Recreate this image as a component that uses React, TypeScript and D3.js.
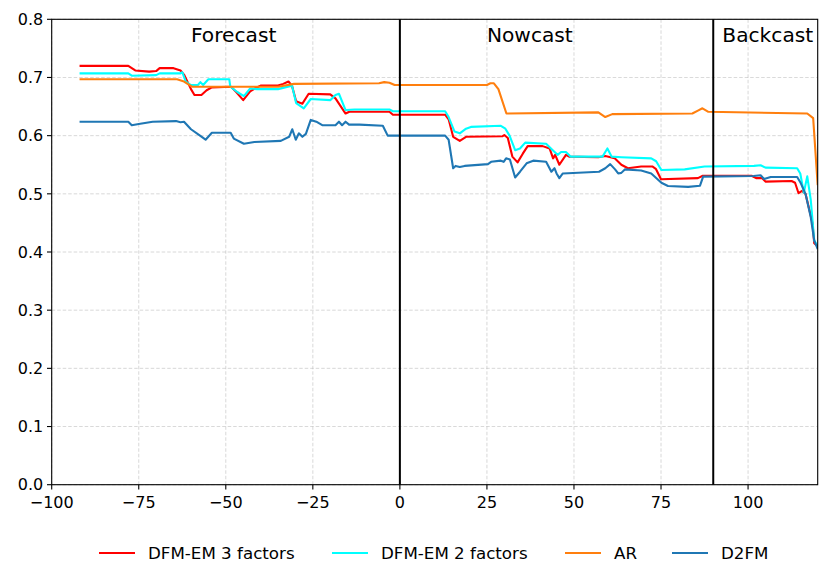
import React from "react";
import * as d3 from "d3";

const W = 830;
const H = 582;
const M = { left: 51.7, right: 817.7, top: 19.3, bottom: 484.7 };

const xTicks = [-100, -75, -50, -25, 0, 25, 50, 75, 100];
const yTicks = [0, 0.1, 0.2, 0.3, 0.4, 0.5, 0.6, 0.7, 0.8];

const seriesNames = ["DFM-EM 3 factors", "DFM-EM 2 factors", "AR", "D2FM"];
const seriesColors = ["#ff0000", "#00ffff", "#ff7f0e", "#1f77b4"];

const regionLabels = ["Forecast", "Nowcast", "Backcast"];
const regionX = [-60, 25, 92.6];
const dividerX = [0, 90];

const redX = [-92, -78, -76, -72, -70, -69, -65, -63, -62, -60, -59, -57, -55.5, -54, -48.5, -47, -45, -43, -41.7, -40, -35, -33.5, -32, -31, -29.8, -28, -26.2, -20, -18.5, -15.6, -14.5, -3, -2, 13, 14, 15.3, 17.2, 19, 29.5, 30, 31, 32.3, 33.8, 35.3, 36.7, 41, 43, 44, 44.6, 45.8, 47.7, 48.6, 57, 59, 61.7, 63.6, 65.5, 69.3, 72.5, 73.5, 75, 85.6, 87, 101, 102.3, 104, 105, 112.5, 113.5, 114.5, 115.5, 116.5, 118.5, 119, 120];
const redY = [0.72, 0.72, 0.712, 0.71, 0.711, 0.716, 0.716, 0.712, 0.705, 0.68, 0.67, 0.67, 0.678, 0.683, 0.684, 0.675, 0.661, 0.676, 0.681, 0.686, 0.686, 0.689, 0.693, 0.686, 0.659, 0.655, 0.672, 0.671, 0.664, 0.638, 0.641, 0.641, 0.636, 0.636, 0.628, 0.598, 0.591, 0.598, 0.599, 0.601, 0.596, 0.564, 0.554, 0.569, 0.582, 0.582, 0.578, 0.561, 0.567, 0.55, 0.567, 0.564, 0.563, 0.565, 0.561, 0.55, 0.544, 0.547, 0.547, 0.543, 0.525, 0.527, 0.531, 0.531, 0.527, 0.527, 0.521, 0.522, 0.519, 0.501, 0.505, 0.5, 0.45, 0.415, 0.41];

const cyanX = [-92, -78, -77, -70, -69, -63, -62.5, -61.5, -60, -58, -57.3, -56.5, -55, -49, -48.7, -46.7, -44.8, -43, -41, -35, -33, -31, -29.8, -27.6, -25.6, -20, -18.5, -17.5, -15.6, -13, -3, -2, 13, 14, 15.7, 17.2, 19, 20.4, 29, 30.3, 31.5, 33.1, 34.5, 36, 42, 43.9, 45.3, 46.3, 47.7, 49, 58.2, 59.6, 60.8, 63.6, 72.2, 73.6, 75.1, 81.8, 87.5, 101.7, 103.6, 105, 114.1, 115, 116, 117, 118, 119, 120];
const cyanY = [0.707, 0.707, 0.703, 0.704, 0.707, 0.707, 0.709, 0.693, 0.687, 0.687, 0.692, 0.687, 0.697, 0.697, 0.684, 0.675, 0.668, 0.681, 0.68, 0.68, 0.683, 0.686, 0.656, 0.647, 0.663, 0.661, 0.67, 0.672, 0.644, 0.645, 0.645, 0.642, 0.642, 0.632, 0.607, 0.604, 0.612, 0.615, 0.617, 0.612, 0.6, 0.575, 0.578, 0.588, 0.586, 0.575, 0.567, 0.572, 0.572, 0.564, 0.564, 0.578, 0.564, 0.563, 0.561, 0.556, 0.541, 0.542, 0.547, 0.548, 0.549, 0.545, 0.544, 0.535, 0.502, 0.53, 0.49, 0.42, 0.41];

const orangeX = [-92, -64, -62, -59.6, -35, -30.4, -6, -4.5, -3, -1.5, 25, 26, 27, 28.3, 30.6, 57, 59, 61, 84, 85.6, 86.9, 88.6, 117, 118.7, 120];
const orangeY = [0.697, 0.697, 0.693, 0.684, 0.684, 0.689, 0.69, 0.692, 0.691, 0.687, 0.687, 0.69, 0.69, 0.68, 0.638, 0.64, 0.632, 0.637, 0.638, 0.643, 0.647, 0.641, 0.638, 0.63, 0.515];

const blueX = [-92, -78, -77, -75, -71, -64.3, -63, -62, -60, -57.4, -55.8, -54, -48.6, -47.7, -44.8, -41.8, -34.2, -31.8, -30.9, -29.9, -29, -28, -27, -25.6, -24, -22.3, -18.5, -17.5, -16.6, -15.6, -14.6, -11.6, -4.9, -3.5, 13, 14, 15.3, 16, 17.2, 18.6, 25.3, 26.2, 29, 29.8, 30.5, 31.6, 33.1, 34.5, 36.4, 38.3, 42, 43.5, 44.4, 45, 45.8, 46.8, 57.2, 59, 60.4, 61.8, 62.7, 63.6, 64.6, 69.3, 72.2, 75.1, 77, 82.8, 86.2, 87.1, 101.6, 103.6, 104.6, 106.5, 114.1, 115, 116.5, 118, 119, 120];
const blueY = [0.624, 0.624, 0.618, 0.62, 0.624, 0.625, 0.623, 0.624, 0.611, 0.6, 0.593, 0.605, 0.605, 0.595, 0.586, 0.589, 0.591, 0.598, 0.611, 0.593, 0.604, 0.598, 0.603, 0.627, 0.624, 0.618, 0.618, 0.624, 0.618, 0.624, 0.619, 0.619, 0.617, 0.6, 0.6, 0.593, 0.544, 0.548, 0.546, 0.548, 0.551, 0.555, 0.557, 0.555, 0.561, 0.559, 0.528, 0.538, 0.5525, 0.557, 0.555, 0.538, 0.544, 0.535, 0.527, 0.535, 0.538, 0.544, 0.551, 0.542, 0.535, 0.536, 0.542, 0.54, 0.535, 0.519, 0.5135, 0.512, 0.514, 0.5295, 0.5306, 0.532, 0.5255, 0.529, 0.529, 0.52, 0.5, 0.46, 0.42, 0.405];

const seriesX = [redX, cyanX, orangeX, blueX];
const seriesY = [redY, cyanY, orangeY, blueY];

const FONT = "'DejaVu Sans', sans-serif";

export default function App() {
  const x = d3.scaleLinear().domain([-100, 120]).range([M.left, M.right]);
  const y = d3.scaleLinear().domain([0, 0.8]).range([M.bottom, M.top]);
  const line = d3
    .line<[number, number]>()
    .x((d) => x(d[0]))
    .y((d) => y(d[1]));
  const fmtX = d3.format("d");
  const fmtY = d3.format(".1f");

  const legendStarts = [99, 332, 565, 672];
  const legendY = 553;

  return (
    <svg
      width={W}
      height={H}
      style={{ position: "absolute", left: 0, top: 0, background: "#fff" }}
      fontFamily={FONT}
    >
      <rect x={0} y={0} width={W} height={H} fill="#fff" />
      <defs>
        <clipPath id="plotclip">
          <rect x={M.left} y={M.top} width={M.right - M.left} height={M.bottom - M.top} />
        </clipPath>
      </defs>
      {/* grid */}
      {xTicks.map((t) => (
        <line
          key={"gx" + t}
          x1={x(t)}
          x2={x(t)}
          y1={M.top}
          y2={M.bottom}
          stroke="#b0b0b0"
          strokeWidth={0.8}
          strokeDasharray="3.5,2"
          opacity={0.6}
        />
      ))}
      {yTicks.map((t) => (
        <line
          key={"gy" + t}
          x1={M.left}
          x2={M.right}
          y1={y(t)}
          y2={y(t)}
          stroke="#b0b0b0"
          strokeWidth={0.8}
          strokeDasharray="3.5,2"
          opacity={0.6}
        />
      ))}
      {/* series */}
      <g clipPath="url(#plotclip)">
        {seriesX.map((xs, i) => (
          <path
            key={seriesNames[i]}
            d={line(xs.map((v, j) => [v, seriesY[i][j]] as [number, number])) || ""}
            fill="none"
            stroke={seriesColors[i]}
            strokeWidth={2.1}
            strokeLinejoin="round"
          />
        ))}
      </g>
      {/* dividers */}
      {dividerX.map((v) => (
        <line key={"dv" + v} x1={x(v)} x2={x(v)} y1={M.top} y2={M.bottom} stroke="#000" strokeWidth={2} />
      ))}
      {/* region labels */}
      {regionLabels.map((s, i) => (
        <text key={s} x={x(regionX[i])} y={41.7} fontSize={20.2} fill="#000">
          {s}
        </text>
      ))}
      {/* spines */}
      <rect
        x={M.left}
        y={M.top}
        width={M.right - M.left}
        height={M.bottom - M.top}
        fill="none"
        stroke="#000"
        strokeWidth={1.1}
      />
      {/* x ticks */}
      {xTicks.map((t) => (
        <g key={"xt" + t}>
          <line x1={x(t)} x2={x(t)} y1={M.bottom} y2={M.bottom + 4.7} stroke="#000" strokeWidth={1.1} />
          <text x={x(t)} y={M.bottom + 23.5} textAnchor="middle" fontSize={16} fill="#000">
            {fmtX(t)}
          </text>
        </g>
      ))}
      {/* y ticks */}
      {yTicks.map((t) => (
        <g key={"yt" + t}>
          <line x1={M.left - 4.7} x2={M.left} y1={y(t)} y2={y(t)} stroke="#000" strokeWidth={1.1} />
          <text x={M.left - 8.5} y={y(t)} dy="0.36em" textAnchor="end" fontSize={16} fill="#000">
            {fmtY(t)}
          </text>
        </g>
      ))}
      {/* legend */}
      {seriesNames.map((s, i) => (
        <g key={"lg" + s}>
          <line
            x1={legendStarts[i]}
            x2={legendStarts[i] + 36}
            y1={legendY}
            y2={legendY}
            stroke={seriesColors[i]}
            strokeWidth={2.1}
          />
          <text x={legendStarts[i] + 49} y={legendY} dy="0.36em" fontSize={16.7} fill="#000">
            {s}
          </text>
        </g>
      ))}
    </svg>
  );
}
